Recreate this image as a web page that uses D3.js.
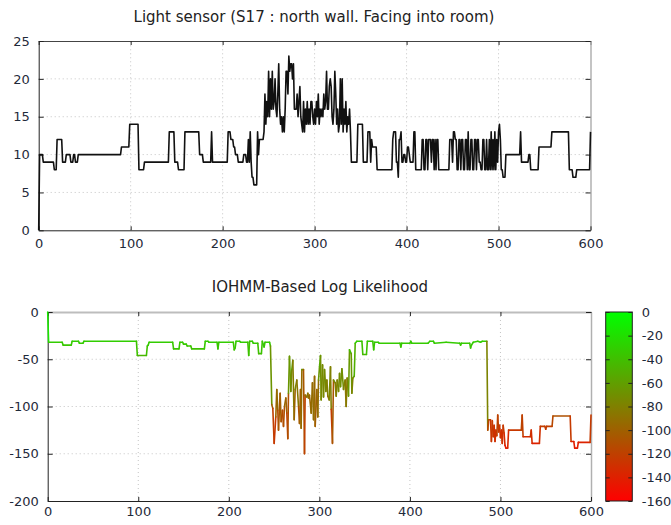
<!DOCTYPE html>
<html><head><meta charset="utf-8">
<script src="https://cdn.jsdelivr.net/npm/d3@7"></script>
<style>
body{margin:0;background:#fff}
svg{display:block}
text{font-family:"DejaVu Sans",Verdana,sans-serif}
</style></head><body>
<svg id="c" width="671" height="525"></svg>
<script>
// ---------- data ----------
const xTicks = [0,100,200,300,400,500,600];
const lightTicksY = [0,5,10,15,20,25];
const llTicksY = [0,-50,-100,-150,-200];
const cbTicks = [0,-20,-40,-60,-80,-100,-120,-140,-160];
const title1 = "Light sensor (S17 : north wall. Facing into room)";
const title2 = "IOHMM-Based Log Likelihood";

// light sensor: each value holds from its start x until the next start
const lightStart = [0,1,5,17,20,26,30,35,38,40,43,90,99,109,115,142,148,152,159,175,179,188,189,206,209,212,214,217,223,226,228,229,230,231,232,234,238,239,240,245,
246,247,248,249,250,251,252,253,254,255,256,257,258,259,260,261,262,263,264,265,266,267,268,269,270,271,272,273,274,275,276,277,278,279,280,281,282,283,284,285,286,287,288,289,290,291,292,293,294,295,296,297,298,299,300,301,302,303,304,305,306,307,308,309,310,311,312,313,314,315,316,317,318,319,320,321,322,323,324,325,326,327,328,329,330,331,332,333,334,335,336,337,338,339,
340,347,353,358,361,362,363,368,385,386,389,391,392,394,395,397,399,401,403,404,408,410,417,419,421,423,424,427,428,430,431,432,433,435,447,450,451,453,455,457,459,460,462,464,466,467,468,470,472,474,476,477,479,481,483,485,487,488,490,491,492,493,494,495,496,497,498,499,500,501,502,503,505,508,524,525,533,535,544,558,577,581,585,600];
const lightVal = [0,10,9,8,12,9,10,9,10,9,10,11,14,8,9,13,9,8,13,10,9,13,9,13,12,11,10,9,10,9,12,9,13,9,7,6,13,10,12,13,
18,14,17,15,21,15,20,16,21,16,17,20,16,15,18,22,16,14,15,13,15,13,16,21,21,18,23,21,22,22,20,22,16,16,16,18,15,17,19,15,14,13,17,13,16,14,17,14,16,14,17,17,15,14,16,14,17,15,18,14,16,15,16,15,18,16,17,21,16,16,19,20,19,15,14,16,21,18,14,16,13,14,20,14,20,13,16,14,17,13,15,14,16,13,
9,14,9,13,9,12,11,8,12,13,9,7,12,13,9,10,9,11,10,9,13,8,12,8,12,8,12,9,12,8,12,8,12,8,12,9,13,12,8,12,8,12,8,12,8,13,8,12,8,12,8,12,9,8,12,8,12,8,12,8,13,8,12,8,13,8,12,9,13,14,12,8,7,10,13,9,10,8,11,13,8,7,8,13];

// log likelihood polyline vertices
const llX = [0,1,16,17,26,27,34,35,39,40,98,99,109,110,111,112,138,139,145,146,149,150,153,154,158,159,173,174,177,178,187,188,189,205,206,207,208,212,213,221,222,223,226,227,232,233,236,237,239,240,245,246,
247.5,248.6,250.1,251.9,253,254.1,254.9,256.7,257.8,259.3,260.4,261.5,263,264.1,265.2,265.9,267,268.5,269.6,270.7,272.2,273.3,275.1,277,278.1,279.2,279.9,280.7,282.5,283.6,284.3,286.2,287.3,288,289.1,291,292.4,293.6,294.7,295.4,297.2,298.3,299.1,300.2,301.3,302,303.5,304.6,305.7,307.2,308.3,309.4,310.9,312.3,313.1,314.5,315.6,317.5,318.6,319.7,321.2,322.3,323.4,324.9,326.7,327.8,328.5,329.6,330.7,332.2,333.3,335.2,335.9,337,338.5,339.6,341.4,
347,348,352,353,359,360,361,365,366,389,390,391,400,401,402,420,422,426,427,440,455,456,457,466,467,468,470,475,478,480,485,
486,487,489,490,491,492,493,494,495,496,497,498,499,500,501,502,503,504,505,506,508,509,523,524,525,533,534,535,543,544,549,550,551,557,558,577,578,581,582,585,586,599,600];
const llY = [0,-32,-32,-35,-35,-31,-31,-33,-33,-31,-31,-46,-46,-36,-35,-32,-32,-39,-39,-32,-32,-34,-34,-36,-36,-39,-39,-31,-31,-32,-32,-39,-32,-32,-40,-38,-31,-31,-32,-32,-46,-31,-31,-33,-33,-44,-44,-31,-37,-32,-32,-36,
-98,-102,-139,-111,-82,-104,-125,-86,-116,-104,-121,-100,-91,-107,-134,-86,-47,-84,-61,-51,-114,-82,-72,-100,-118,-82,-123,-61,-61,-150,-88,-90,-86,-91,-88,-107,-75,-114,-68,-121,-82,-111,-72,-58,-46,-93,-56,-90,-61,-84,-72,-89,-93,-58,-103,-139,-72,-75,-89,-72,-84,-65,-79,-60,-82,-75,-72,-100,-70,-89,-40,-44,-86,-70,-68,-33,-31,
-31,-45,-45,-31,-31,-40,-32,-32,-33,-33,-37,-33,-33,-31,-33,-33,-31,-31,-33,-32,-33,-35,-33,-33,-38,-35,-32,-31,-32,-31,-31,
-125,-114,-114,-137,-115,-132,-120,-137,-125,-131,-109,-127,-120,-133,-125,-139,-120,-128,-141,-144,-144,-125,-125,-109,-132,-132,-125,-139,-139,-121,-121,-124,-121,-121,-110,-110,-137,-137,-144,-144,-138,-138,-109];

// ---------- drawing ----------
const svg = d3.select("#c");
const tickCol = "#1f2a3a";
const fmt = d => String(d);   // plain hyphen minus, as in the reference
const pal = v => { const t = Math.max(0, Math.min(1, -v/160)); return d3.rgb(255*t, 255*(1-t), 0).formatHex(); };

function panel(x, y, xt, yt, o) {
  const g = svg.append("g");
  const [x0, x1] = x.range(), [yb, yt0] = y.range();
  g.selectAll(".gx").data(xt.slice(1,-1)).join("line")
    .attr("x1", d=>x(d)).attr("x2", d=>x(d)).attr("y1", yb).attr("y2", yt0)
    .attr("stroke", "#c4c4c4").attr("stroke-dasharray", "1,3");
  g.selectAll(".gy").data(yt.slice(1,-1)).join("line")
    .attr("y1", d=>y(d)).attr("y2", d=>y(d)).attr("x1", x0).attr("x2", x1)
    .attr("stroke", "#c4c4c4").attr("stroke-dasharray", "1,3");
  const top = g.append("g").attr("transform", `translate(0,${yt0})`)
    .call(d3.axisTop(x).tickValues(xt).tickSizeInner(-4).tickSizeOuter(0).tickFormat(""));
  top.select(".domain").attr("stroke", o.topCol).attr("stroke-width", o.topW);
  const right = g.append("g").attr("transform", `translate(${x1},0)`)
    .call(d3.axisRight(y).tickValues(yt).tickSizeInner(-5).tickSizeOuter(0).tickFormat(""));
  right.select(".domain").attr("stroke", "#b0b0b0").attr("stroke-width", 1.5);
  const bot = g.append("g").attr("transform", `translate(0,${yb})`)
    .call(d3.axisBottom(x).tickValues(xt).tickSizeInner(-4).tickSizeOuter(0).tickPadding(o.xPad).tickFormat(fmt));
  const left = g.append("g").attr("transform", `translate(${x0},0)`)
    .call(d3.axisLeft(y).tickValues(yt).tickSizeInner(-5).tickSizeOuter(0).tickPadding(9).tickFormat(fmt));
  [top, right, bot, left].forEach(a => {
    a.selectAll(".tick line").attr("stroke", "#222");
    a.selectAll("text").attr("font-size", 13).attr("fill", tickCol).attr("font-family", '"DejaVu Sans",Verdana,sans-serif');
  });
  bot.select(".domain").attr("stroke", "#222");
  left.select(".domain").attr("stroke", "#222");
  return g;
}

// top panel
const xA = d3.scaleLinear().domain([0,600]).range([38.7,590.5]);
const yA = d3.scaleLinear().domain([0,25]).range([230.3,41]);
panel(xA, yA, xTicks, lightTicksY, {topCol:"#444", topW:1, xPad:8});
const lightPts = [];
lightStart.forEach((s,i) => {
  lightPts.push([s, lightVal[i]]);
  if (i < lightStart.length-1 && lightStart[i+1]-1 > s) lightPts.push([lightStart[i+1]-1, lightVal[i]]);
});
svg.append("path").datum(lightPts)
  .attr("d", d3.line().x(d=>xA(d[0])).y(d=>yA(d[1])))
  .attr("fill","none").attr("stroke","#111").attr("stroke-width",1.6).attr("stroke-linejoin","round");
svg.append("text").attr("x", 314).attr("y", 22).attr("text-anchor","middle")
  .attr("font-size", 15).attr("fill","#222").text(title1);

// bottom panel
const xB = d3.scaleLinear().domain([0,600]).range([47.7,591]);
const yB = d3.scaleLinear().domain([-200,0]).range([501,312]);
panel(xB, yB, xTicks, llTicksY, {topCol:"#bdbdbd", topW:2, xPad:6});
const segs = d3.pairs(llX.map((v,i)=>[v, llY[i]]));
svg.append("g").selectAll("line").data(segs).join("line")
  .attr("x1", d=>xB(d[0][0])).attr("y1", d=>yB(d[0][1]))
  .attr("x2", d=>xB(d[1][0])).attr("y2", d=>yB(d[1][1]))
  .attr("stroke", d=>pal((d[0][1]+d[1][1])/2)).attr("stroke-width",1.6).attr("stroke-linecap","round");
svg.append("text").attr("x", 320).attr("y", 292).attr("text-anchor","middle")
  .attr("font-size", 15).attr("fill","#222").text(title2);

// colour bar
const yC = d3.scaleLinear().domain([-160,0]).range([501,312]);
const cbx0 = 605.7, cbx1 = 632.3;
const grad = svg.append("defs").append("linearGradient").attr("id","cbg")
  .attr("x1",0).attr("y1",0).attr("x2",0).attr("y2",1);
grad.selectAll("stop").data(cbTicks).join("stop")
  .attr("offset", d => (d/-160)).attr("stop-color", d => pal(d));
svg.append("rect").attr("x", cbx0).attr("y", yC(0)).attr("width", cbx1-cbx0).attr("height", yC(-160)-yC(0))
  .attr("fill","url(#cbg)").attr("stroke","#222").attr("stroke-width",1);
const cbL = svg.append("g").attr("transform",`translate(${cbx0},0)`)
  .call(d3.axisLeft(yC).tickValues(cbTicks).tickSizeInner(-4).tickSizeOuter(0).tickFormat(""));
const cbR = svg.append("g").attr("transform",`translate(${cbx1},0)`)
  .call(d3.axisRight(yC).tickValues(cbTicks).tickSizeInner(-4).tickSizeOuter(0).tickPadding(9.5).tickFormat(fmt));
[cbL, cbR].forEach(a => {
  a.select(".domain").remove();
  a.selectAll(".tick line").attr("stroke","#222");
  a.selectAll("text").attr("font-size",13).attr("fill",tickCol).attr("font-family",'"DejaVu Sans",Verdana,sans-serif');
});
</script>
</body></html>
